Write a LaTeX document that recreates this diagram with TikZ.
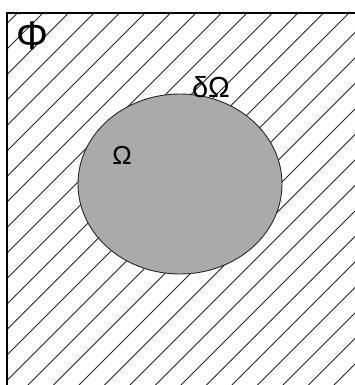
\documentclass[tikz,border=0pt]{standalone}
\usepackage{fontspec}
\setmainfont{Liberation Sans}
\usetikzlibrary{shapes.geometric}
\definecolor{regiongray}{HTML}{AAAAAA}
\tikzset{
  hatchline/.style={line width=0.9pt, draw=black!85},
  frameline/.style={line width=2.2pt, draw=black},
  regionfill/.style={fill=regiongray, draw=black!85, line width=0.9pt},
  lbl/.style={inner sep=0pt, font=\fontsize{26}{26}\selectfont}
}
\begin{document}
\begin{tikzpicture}[x=1pt,y=-1pt]
\useasboundingbox (0,0) rectangle (355,385);
\begin{scope}
  \clip (7,13) rectangle (356,386);
  \foreach \k in {0,...,28} {
    \pgfmathsetmacro{\c}{30.5+25.5*\k}
    \draw[hatchline] ({\c-400},400) -- ({\c+20},-20);
  }
\end{scope}
\draw[frameline] (7,390) -- (7,13) -- (360,13);
\node[regionfill, ellipse, minimum width=204pt, minimum height=180pt, inner sep=0pt] (omega) at (180,184) {};
\node[lbl, font=\fontsize{40}{40}\selectfont] (phi) at (32,36) {Φ};
\node[lbl, font=\fontsize{29}{29}\selectfont] (bnd) at (211,87) {δΩ};
\node[lbl] (int) at (122,155) {Ω};
\end{tikzpicture}
\end{document}
